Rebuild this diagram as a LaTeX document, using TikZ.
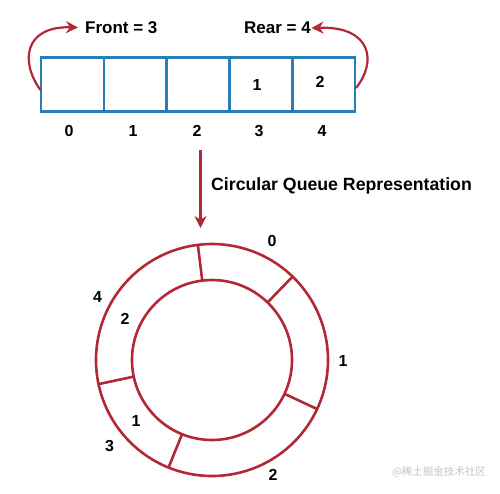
\documentclass[tikz,border=0pt]{standalone}
\usepackage{fontspec}
\setmainfont{Liberation Sans}
\newfontfamily\cjk{Noto Sans CJK SC}
\usetikzlibrary{arrows.meta}
\definecolor{qblue}{RGB}{41,125,185}
\definecolor{qred}{RGB}{178,40,55}
\definecolor{wm}{RGB}{195,195,195}
\begin{document}
\begin{tikzpicture}[x=1pt,y=-1pt,
  cell/.style={draw=qblue,line width=2.6pt,minimum width=62.8pt,minimum height=53.5pt,inner sep=0pt,outer sep=0pt},
  txt/.style={font=\fontsize{16}{18}\selectfont\bfseries,inner sep=1pt},
  lbl/.style={font=\fontsize{17}{19}\selectfont\bfseries,inner sep=0pt},
  ring/.style={draw=qred,line width=2.6pt,circle,inner sep=0pt,outer sep=0pt},
  redarrow/.style={draw=qred,line width=2.2pt,-{Stealth[length=12pt,width=12pt]}},
  divider/.style={draw=qred,line width=2.6pt}]
\useasboundingbox (0,0) rectangle (500,493);
% array cells
\node[cell] (c0) at (72.4,84.5) {};
\node[cell] (c1) at (135.2,84.5) {};
\node[cell] (c2) at (198,84.5) {};
\node[cell] (c3) at (260.8,84.5) {};
\node[cell] (c4) at (323.6,84.5) {};
\node[txt] (v3) at (257,85) {1};
\node[txt] (v4) at (320,82) {2};
% indices
\node[txt] (i0) at (69,131) {0};
\node[txt] (i1) at (133,131) {1};
\node[txt] (i2) at (197,131) {2};
\node[txt] (i3) at (259,131) {3};
\node[txt] (i4) at (322,131) {4};
% pointers
\node[lbl,anchor=west] (front) at (85,28) {Front = 3};
\node[lbl,anchor=east] (rear) at (311,28) {Rear = 4};
\coordinate (fs) at (40.5,90);
\coordinate (ft) at (78,27.5);
\coordinate (rs) at (356,88);
\coordinate (rt) at (311.5,28);
\draw[redarrow] (fs) .. controls (20,62) and (24,26) .. (ft);
\draw[redarrow] (rs) .. controls (377,62) and (372,26) .. (rt);
% down arrow
\coordinate (ds) at (200.5,150);
\coordinate (de) at (200.5,228);
\draw[redarrow] (ds) -- (de);
\node[font=\fontsize{17.7}{20}\selectfont\bfseries,inner sep=0pt,anchor=west] (title) at (211,186) {Circular Queue Representation};
% circular queue
\node[ring,minimum size=232pt] (outer) at (212,360) {};
\node[ring,minimum size=160pt] (inner) at (212,360) {};
\foreach \a in {97.5,46.5,-25,-112,192.5}{
  \draw[divider] (outer.\a) -- (inner.\a);
}
\node[txt] (o0) at (272,240.5) {0};
\node[txt] (o1) at (343,361) {1};
\node[txt] (o2) at (273,475) {2};
\node[txt] (o3) at (109.5,446) {3};
\node[txt] (o4) at (97.5,297) {4};
\node[txt] (e4) at (125,318.5) {2};
\node[txt] (e3) at (136,421) {1};
% watermark
\node[text=wm,font=\cjk\fontsize{10.5}{12}\selectfont,inner sep=0pt] (wmk) at (439,472) {@稀土掘金技术社区};
\end{tikzpicture}
\end{document}
